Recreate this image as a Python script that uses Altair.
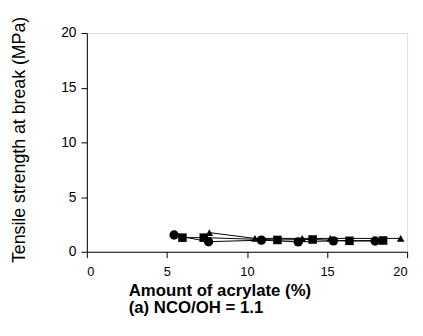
import altair as alt
import pandas as pd

# Series data
circle_x = [5.45, 7.6, 10.9, 13.2, 15.4, 18.0]
circle_y = [1.53, 0.92, 1.06, 0.9, 1.0, 0.98]
square_x = [5.97, 7.3, 11.9, 14.1, 16.4, 18.5]
square_y = [1.29, 1.29, 1.08, 1.12, 1.0, 1.03]
triangle_x = [7.65, 10.5, 13.45, 15.2, 19.6]
triangle_y = [1.75, 1.22, 1.22, 1.22, 1.22]

series_names = ["circle", "square", "triangle"]
x_ticks = [0, 5, 10, 15, 20]
y_ticks = [0, 5, 10, 15, 20]

rows = []
for name, xs, ys in [("circle", circle_x, circle_y),
                     ("square", square_x, square_y),
                     ("triangle", triangle_x, triangle_y)]:
    for i, (a, b) in enumerate(zip(xs, ys)):
        rows.append({"series": name, "x": a, "y": b, "order": i})
df = pd.DataFrame(rows)

FONT = "Liberation Sans"

x_enc = alt.X("x:Q", scale=alt.Scale(domain=[0, 20], nice=False),
              axis=alt.Axis(values=x_ticks, grid=False, domainColor="black",
                            tickColor="black", tickSize=6, labelPadding=8,
                            labelFontSize=13, labelFont=FONT, labelColor="black",
                            title=["Amount of acrylate (%)", "(a) NCO/OH = 1.1"],
                            titleFont=FONT, titleFontSize=17, titleFontWeight="bold",
                            titleColor="black", titleAlign="left", titleAnchor="start",
                            titleX=42, titleY=31, titleBaseline="top",
                            titleLineHeight=18))
y_enc = alt.Y("y:Q", scale=alt.Scale(domain=[0, 20], nice=False),
              axis=alt.Axis(values=y_ticks, grid=False, domainColor="black",
                            tickColor="black", tickSize=6, labelPadding=5,
                            labelFontSize=14, labelFont=FONT, labelColor="black",
                            title="Tensile strength at break (MPa)",
                            titleFont=FONT, titleFontSize=18, titleFontWeight="normal",
                            titleColor="black", titleAngle=-90,
                            titleX=-63, titleY=108, titleAlign="center",
                            titleBaseline="alphabetic"))

base = alt.Chart(df)

lines = base.mark_line(color="black", strokeWidth=1).encode(
    x=x_enc, y=y_enc, detail="series:N", order="order:Q")

points = base.mark_point(filled=True, color="black", opacity=1).encode(
    x=x_enc, y=y_enc,
    shape=alt.Shape("series:N", scale=alt.Scale(domain=series_names,
                                                range=["circle", "square", "triangle-up"]),
                    legend=None),
    size=alt.Size("series:N", scale=alt.Scale(domain=series_names, range=[90, 60, 80]),
                  legend=None),
)

chart = (lines + points).properties(
    width=325, height=222,
    autosize=alt.AutoSizeParams(type="none"),
    padding={"left": 80, "top": 23, "right": 8, "bottom": 75},
).configure_view(stroke="#999999", strokeWidth=1).configure(background="white")

chart.save("out.html", embed_options={"renderer": "svg", "actions": False})
